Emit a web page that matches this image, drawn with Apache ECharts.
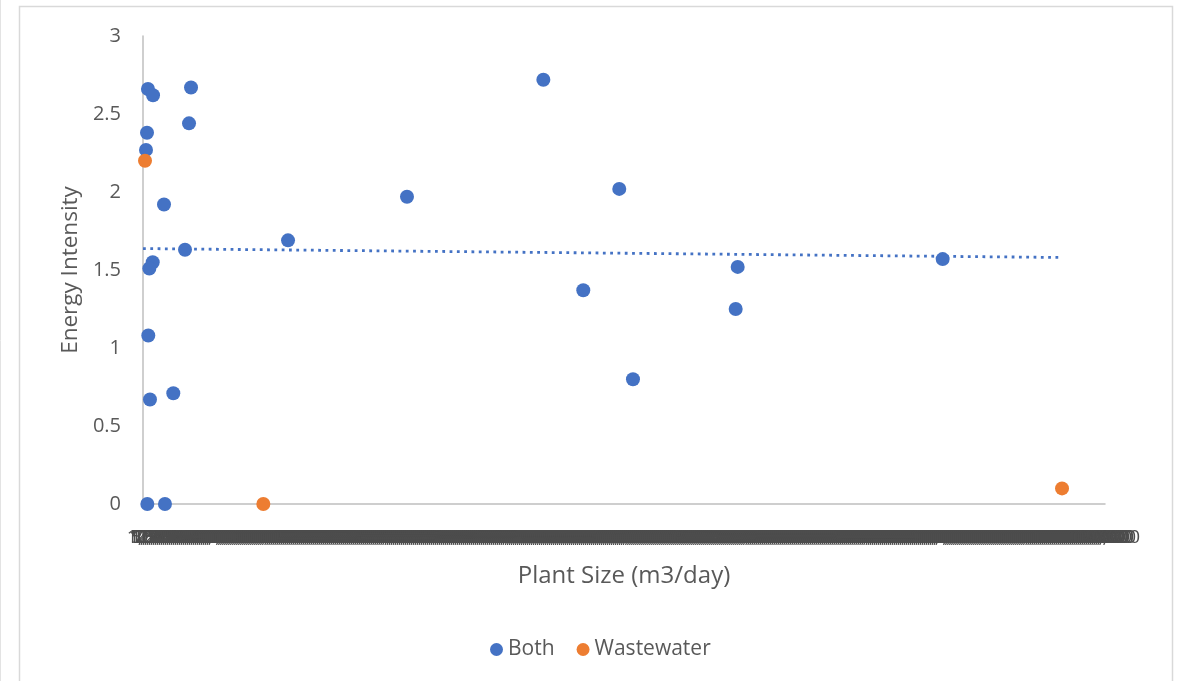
<!DOCTYPE html>
<html>
<head>
<meta charset="utf-8">
<script src="https://cdn.jsdelivr.net/npm/echarts@6/dist/echarts.min.js"></script>
<style>
  html, body { margin: 0; padding: 0; background: #ffffff; }
  #chart { width: 1179px; height: 681px; }
</style>
</head>
<body>
<div id="chart"></div>
<script>
// Plant size (m3/day) and energy intensity for plants treating both water and wastewater
const bothSize = [620, 1250, 5990, 5740, 500, 375, 2620, 5240, 18090, 1210, 790, 660,
                  3780, 870, 540, 2740, 49940, 32930, 59410, 54920, 74180, 73930, 99750, 61120];
const bothIntensity = [2.66, 2.62, 2.67, 2.44, 2.38, 2.27, 1.92, 1.63, 1.69, 1.55, 1.51, 1.08,
                       0.71, 0.67, 0, 0, 2.72, 1.97, 2.02, 1.37, 1.52, 1.25, 1.57, 0.80];

// Wastewater-only plants
const wasteSize = [250, 15010, 114640];
const wasteIntensity = [2.20, 0, 0.10];

// Axis settings
const yTicks = [0, 0.5, 1, 1.5, 2, 2.5, 3];
const xMax = 120000;
const xLabelStep = 250;
// Linear trendline of "Both", drawn forward to this plant size
const TREND_END = 114640;

const BLUE = '#4472C4';
const ORANGE = '#ED7D31';
const TEXT = '#595959';
const FONT = '"Open Sans", "Liberation Sans", sans-serif';

function pairs(xs, ys) { return xs.map((x, i) => [x, ys[i]]); }

// Least-squares fit of the "Both" series
function linearFit(xs, ys) {
  const n = xs.length;
  const mx = xs.reduce((a, b) => a + b, 0) / n;
  const my = ys.reduce((a, b) => a + b, 0) / n;
  let sxy = 0, sxx = 0;
  for (let i = 0; i < n; i++) {
    sxy += (xs[i] - mx) * (ys[i] - my);
    sxx += (xs[i] - mx) * (xs[i] - mx);
  }
  const slope = sxy / sxx;
  return { slope, intercept: my - slope * mx };
}
const fit = linearFit(bothSize, bothIntensity);
const trend = [0, TREND_END].map(x => [x, fit.intercept + fit.slope * x]);

const chart = echarts.init(document.getElementById('chart'), null, { renderer: 'canvas' });

chart.setOption({
  backgroundColor: '#ffffff',
  animation: false,
  textStyle: { fontFamily: FONT },
  graphic: [
    {
      type: 'rect', silent: true, z: -10,
      shape: { x: 19.5, y: 6.5, width: 1153, height: 720 },
      style: { fill: '#ffffff', stroke: '#d9d9d9', lineWidth: 1.5 }
    },
    {
      type: 'line', silent: true, z: -10,
      shape: { x1: 0.5, y1: 0, x2: 0.5, y2: 681 },
      style: { stroke: '#e3e3e3', lineWidth: 1 }
    }
  ],
  grid: { left: 143, right: 74, top: 36, bottom: 177, containLabel: false },
  legend: {
    data: ['Both', 'Wastewater'],
    top: 634,
    left: 485,
    icon: 'circle',
    itemWidth: 13,
    itemHeight: 13,
    itemGap: 22,
    textStyle: { color: TEXT, fontSize: 21, fontFamily: FONT }
  },
  xAxis: {
    type: 'value',
    min: 0,
    max: xMax,
    interval: xLabelStep,
    name: 'Plant Size (m3/day)',
    nameLocation: 'middle',
    nameGap: 60,
    nameTextStyle: { color: TEXT, fontSize: 24, fontFamily: FONT },
    axisLine: { show: true, lineStyle: { color: '#bfbfbf', width: 1.5 } },
    axisTick: { show: false },
    splitLine: { show: false },
    axisLabel: {
      color: '#4d4d4d',
      fontSize: 19,
      margin: 24,
      hideOverlap: false,
      showMinLabel: true,
      showMaxLabel: true,
      formatter: v => v.toLocaleString('en-US')
    }
  },
  yAxis: {
    type: 'value',
    min: yTicks[0],
    max: yTicks[yTicks.length - 1],
    interval: yTicks[1] - yTicks[0],
    name: 'Energy Intensity',
    nameLocation: 'middle',
    nameGap: 61,
    nameRotate: 90,
    nameTextStyle: { color: TEXT, fontSize: 22.5, fontFamily: FONT },
    axisLine: { show: true, lineStyle: { color: '#bfbfbf', width: 1.5 } },
    axisTick: { show: false },
    splitLine: { show: false },
    axisLabel: { color: TEXT, fontSize: 20, margin: 22 }
  },
  series: [
    {
      name: 'Both',
      type: 'scatter',
      data: pairs(bothSize, bothIntensity),
      symbolSize: 14,
      itemStyle: { color: BLUE, opacity: 1 },
      z: 3
    },
    {
      name: 'Wastewater',
      type: 'scatter',
      data: pairs(wasteSize, wasteIntensity),
      symbolSize: 14,
      itemStyle: { color: ORANGE, opacity: 1 },
      z: 3
    },
    {
      name: 'Linear (Both)',
      type: 'line',
      data: trend,
      showSymbol: false,
      silent: true,
      lineStyle: { color: BLUE, width: 2.8, type: [2.8, 4.5], cap: 'butt' },
      z: 2
    }
  ]
});
</script>
</body>
</html>
